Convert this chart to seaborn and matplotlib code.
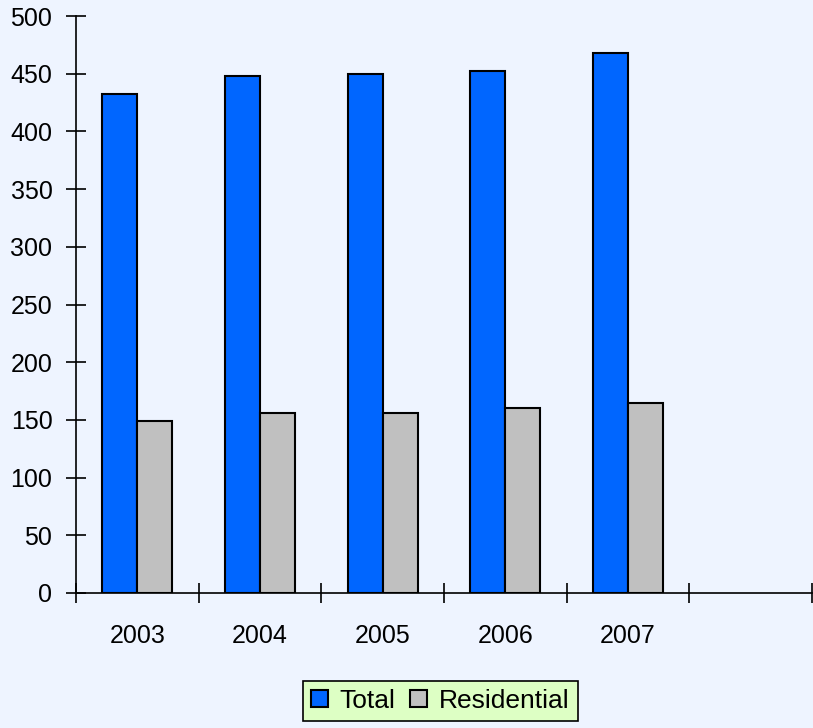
import pandas as pd
import matplotlib
matplotlib.use('Agg')
import matplotlib.pyplot as plt
import seaborn as sns
from matplotlib.patches import Patch

# datos
years = ['2003', '2004', '2005', '2006', '2007']
total = [432, 448, 450, 452, 468]
residential = [149, 156, 156, 160, 165]
series = ['Total', 'Residential']
colors = ['#0066FF', '#C0C0C0']

df = pd.DataFrame({
    'year': years * 2,
    'value': total + residential,
    'serie': ['Total'] * len(years) + ['Residential'] * len(years),
})

sns.set_style('white')
plt.rcParams['font.family'] = ['Liberation Sans', 'DejaVu Sans']
plt.rcParams['text.color'] = 'black'

bg = '#EEF4FF'
fig = plt.figure(figsize=(8.13, 7.28), dpi=100, facecolor=bg)
ax = fig.add_axes([76 / 813, 1 - 593 / 728, 736 / 813, 577 / 728])
ax.set_facecolor(bg)

sns.barplot(data=df, x='year', y='value', hue='serie', hue_order=series,
            palette=colors, saturation=1, order=years, width=0.57,
            edgecolor='black', linewidth=1.5, legend=False, ax=ax)

ax.set_xlim(-0.5, 5.5)
ax.set_ylim(0, 500)
ax.set_yticks(range(0, 501, 50))
ax.set_xticks(range(len(years)))
ax.set_xticklabels(years)
ax.set_xticks([i - 0.5 for i in range(7)], minor=True)
ax.set_xlabel('')
ax.set_ylabel('')

for s in ['top', 'right']:
    ax.spines[s].set_visible(False)
for s in ['left', 'bottom']:
    ax.spines[s].set_linewidth(1.2)
    ax.spines[s].set_color('black')

ax.tick_params(axis='y', direction='inout', length=14, width=1.2, pad=10,
               labelsize=18, left=True, colors='black')
ax.tick_params(axis='x', which='major', length=0, pad=22, labelsize=18,
               colors='black')
ax.tick_params(axis='x', which='minor', direction='inout', length=14,
               width=1.2, bottom=True, colors='black')

handles = [Patch(facecolor=c, edgecolor='black', linewidth=1.5) for c in colors]
leg = ax.legend(handles, series, loc='upper center', bbox_to_anchor=(0.495, -0.152),
                ncol=2, fontsize=19, frameon=True, fancybox=False,
                handlelength=0.64, handleheight=0.64, handletextpad=0.45,
                columnspacing=0.57, borderpad=0.3, borderaxespad=0)
leg.get_frame().set_facecolor('#DDFFC4')
leg.get_frame().set_edgecolor('black')
leg.get_frame().set_linewidth(1.2)
leg.get_frame().set_alpha(1)

plt.savefig('out.png', dpi=100, facecolor=bg)
